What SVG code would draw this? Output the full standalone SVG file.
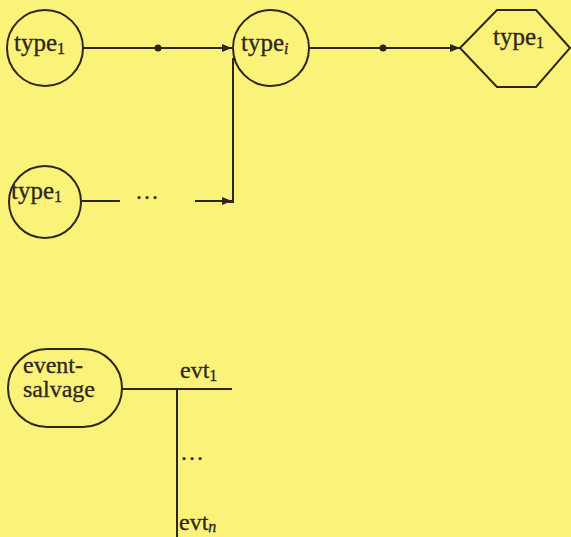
<svg xmlns="http://www.w3.org/2000/svg" width="571" height="537" viewBox="0 0 571 537">
<defs>
<style>
.s{fill:none;stroke:#2e261a;stroke-width:2}
.t{font-family:"Liberation Serif","DejaVu Serif",serif;font-size:24px;fill:#2e261a;stroke:#2e261a;stroke-width:0.3}
.ty{font-size:25px}
.sub{font-size:16px}
.dot{fill:#2e261a}
</style>
<marker id="ah" viewBox="0 0 10 8" refX="10" refY="4" markerWidth="10" markerHeight="8" markerUnits="userSpaceOnUse" orient="auto">
<path d="M0,0 L10,4 L0,8 Z" fill="#2e261a"/>
</marker>
</defs>
<rect width="571" height="537" fill="#fbf27a"/>
<g id="connectors">
<line class="s" x1="83" y1="48" x2="232" y2="48" marker-end="url(#ah)"/>
<circle class="dot" cx="158" cy="48" r="3.5"/>
<line class="s" x1="310" y1="48" x2="460" y2="48" marker-end="url(#ah)"/>
<circle class="dot" cx="383" cy="48" r="3.5"/>
<line class="s" x1="82" y1="201" x2="120" y2="201"/>
<text class="t" x="135" y="205">···</text>
<line class="s" x1="195" y1="201" x2="232" y2="201" marker-end="url(#ah)"/>
<polyline class="s" points="233,58 233,202 228,202"/>
<line class="s" x1="122" y1="389" x2="232" y2="389"/>
<line class="s" x1="177" y1="389" x2="177" y2="537"/>
<text class="t" x="180" y="378">evt<tspan class="sub" dy="3">1</tspan></text>
<text class="t" x="180" y="466">···</text>
<text class="t" x="179" y="530">evt<tspan class="sub" dy="2" font-style="italic">n</tspan></text>
</g>
<g id="n1">
<circle class="s" cx="45" cy="48" r="38"/>
<text class="t ty" x="14" y="51">type<tspan class="sub" dy="3">1</tspan></text>
</g>
<g id="n2">
<circle class="s" cx="271" cy="48" r="38"/>
<text class="t ty" x="241" y="51">type<tspan class="sub" dy="3" font-style="italic">i</tspan></text>
</g>
<g id="n3">
<polygon class="s" points="460,48 497,10 536,10 570,48 536,87 497,87"/>
<text class="t ty" x="493" y="45">type<tspan class="sub" dy="3">1</tspan></text>
</g>
<g id="n4">
<circle class="s" cx="45" cy="202" r="36"/>
<text class="t ty" x="11" y="199">type<tspan class="sub" dy="3">1</tspan></text>
</g>
<g id="n5">
<rect class="s" x="8" y="349" width="114" height="78" rx="39" ry="39"/>
<text class="t" x="23" y="373" font-size="23">event-</text>
<text class="t" x="23" y="397" font-size="23">salvage</text>
</g>
</svg>
